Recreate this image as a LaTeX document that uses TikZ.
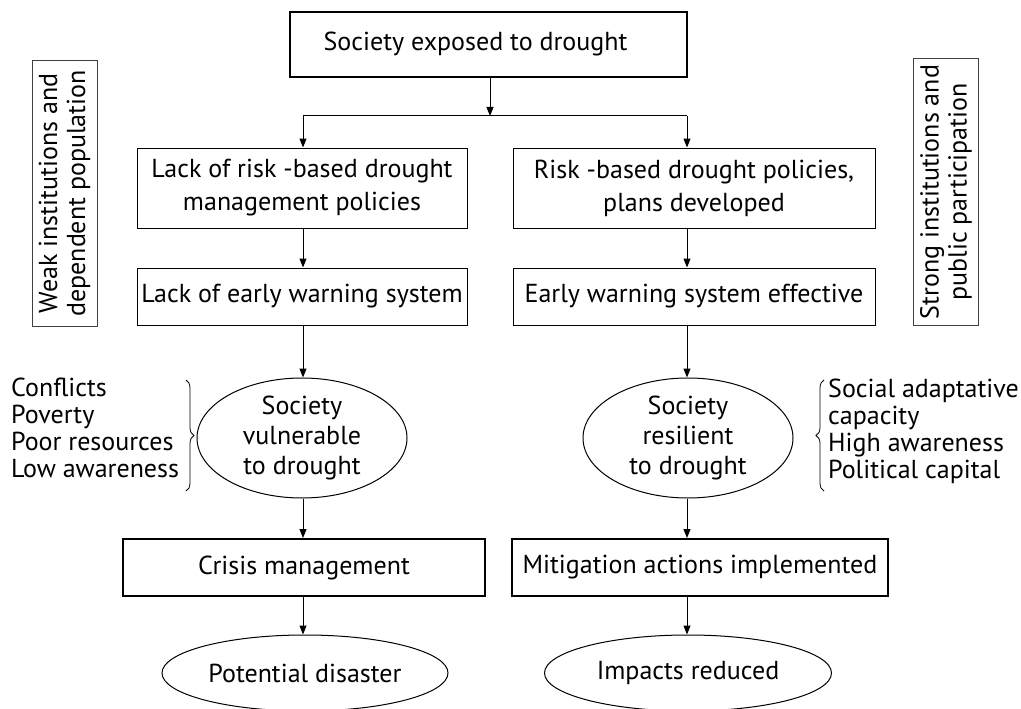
\documentclass[tikz,border=0pt]{standalone}
\usepackage{fontspec}
\setmainfont{PT Sans}
\usetikzlibrary{arrows.meta,shapes.geometric,decorations.pathreplacing,calc}
\begin{document}
\begin{tikzpicture}[x=1pt,y=-1pt,
  every node/.style={font=\fontsize{26}{30}\selectfont, align=center, inner sep=0pt},
  thinbox/.style={draw, line width=1pt, rectangle},
  thickbox/.style={draw, line width=2pt, rectangle},
  twoline/.style={font=\fontsize{26}{33}\selectfont},
  sidebox/.style={draw=black!75, line width=1pt, rectangle, rotate=90, minimum width=266, minimum height=65, font=\fontsize{26}{28}\selectfont},
  oval/.style={draw, line width=1pt, ellipse},
  arr/.style={line width=1pt, -{Triangle[length=9pt,width=7pt]}},
  ln/.style={line width=1pt},
  brc/.style={line width=0.8pt, decorate, decoration={brace, amplitude=8pt}},
  lst/.style={align=left, anchor=north west, font=\fontsize{26}{27}\selectfont}
]
\useasboundingbox (0,0) rectangle (1021,709);
\coordinate (cl) at (303,0);
\coordinate (cr) at (687,0);
\node[thickbox, minimum width=397, minimum height=65] (top) at (488.5,44.5) {Society exposed to drought\hspace*{26pt}};
\coordinate (j) at (490,116);
\node[thinbox, twoline, minimum width=330, minimum height=80] (l2) at (302,188) {Lack of risk -based drought\\management policies};
\node[thinbox, twoline, minimum width=362, minimum height=80] (r2) at (694,188) {Risk -based drought policies,\\plans developed};
\node[thinbox, minimum width=330, minimum height=57] (l3) at (302,296.5) {Lack of early warning system};
\node[thinbox, minimum width=362, minimum height=57] (r3) at (694,296.5) {Early warning system effective};
\node[oval, minimum width=210, minimum height=120] (le) at (302,438) {Society\\vulnerable\\to drought};
\node[oval, minimum width=210, minimum height=120] (re) at (688,438) {Society\\resilient\\to drought};
\node[thickbox, minimum width=362, minimum height=57] (lc) at (304,567.5) {Crisis management};
\node[thickbox, minimum width=376, minimum height=57] (rc) at (700,567.5) {Mitigation actions implemented};
\node[oval, minimum width=286, minimum height=76] (lb) at (305,673) {Potential disaster};
\node[oval, minimum width=287, minimum height=76] (rb) at (688,673) {Impacts reduced};
\node[sidebox] (ls) at (64.5,193.5) {Weak institutions and\\dependent population};
\node[sidebox] (rs) at (946,192) {Strong institutions and\\public participation};
\node[lst] (ll) at (11,378) {Conflicts\\Poverty\\Poor resources\\Low awareness};
\node[lst] (rl) at (828,379) {Social adaptative\\capacity\\High awareness\\Political capital};
\draw[arr] (top.south -| j) -- (j);
\draw[ln] (j -| cl) -- (j -| cr);
\draw[arr] (j -| cl) -- (l2.north -| cl);
\draw[arr] (j -| cr) -- (r2.north -| cr);
\draw[arr] (l2.south -| cl) -- (l3.north -| cl);
\draw[arr] (r2.south -| cr) -- (r3.north -| cr);
\draw[arr] (l3.south -| cl) -- (le.north -| cl);
\draw[arr] (r3.south -| cr) -- (re.north -| cr);
\draw[arr] (le.south -| cl) -- (lc.north -| cl);
\draw[arr] (re.south -| cr) -- (rc.north -| cr);
\draw[arr] (lc.south -| cl) -- (lb.north -| cl);
\draw[arr] (rc.south -| cr) -- (rb.north -| cr);
\coordinate (lbt) at (186,380);
\coordinate (lbb) at (186,491);
\coordinate (rbt) at (824,380);
\coordinate (rbb) at (824,491);
\draw[brc] (lbt) -- (lbb);
\draw[brc] (rbb) -- (rbt);
\end{tikzpicture}
\end{document}
